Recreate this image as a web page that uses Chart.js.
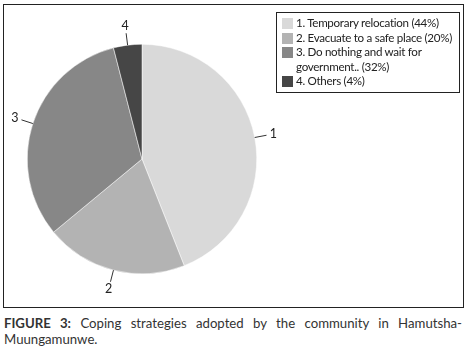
<!DOCTYPE html>
<html>
<head>
<meta charset="utf-8">
<script src="https://cdn.jsdelivr.net/npm/chart.js@4"></script>
<style>
  body { margin: 0; background: #fff; font-family: Lato, "Open Sans", sans-serif; }
  #frame { position: absolute; left: 3px; top: 4px; width: 459px; height: 302px; border: 1.5px solid #222; }
  #chart { position: absolute; left: 0; top: 0; }
  #legend { position: absolute; left: 272px; top: 7px; width: 182px; padding: 3px 0 3px 0;
    border: 1.5px solid #222; font-size: 11.6px; letter-spacing: -0.3px; color: #222; }
  .item { position: relative; padding-left: 19px; line-height: 14.6px; }
  .sw { position: absolute; left: 5px; top: 2px; width: 11px; height: 11px; }
  #caption { position: absolute; left: 4px; top: 315px; width: 458px; font-size: 13.2px;
    line-height: 16px; color: #333; text-align: justify; text-align-last: left; }
  #caption b { font-weight: bold; }
</style>
</head>
<body>
<div id="frame">
  <canvas id="chart" width="459" height="302"></canvas>
  <div id="legend"></div>
</div>
<div id="caption"><b>FIGURE 3:</b> Coping strategies adopted by the community in Hamutsha-Muungamunwe.</div>
<script>
const sliceLabels = ["1", "2", "3", "4"];
const legendNames = ["1. Temporary relocation (44%)", "2. Evacuate to a safe place (20%)",
  "3. Do nothing and wait for government.. (32%)", "4. Others (4%)"];
const values = [44, 20, 32, 4];
const colors = ["#d9d9d9", "#b3b3b3", "#878787", "#464646"];

// legend box
const legendEl = document.getElementById("legend");
legendNames.forEach((name, i) => {
  const row = document.createElement("div");
  row.className = "item";
  const sw = document.createElement("span");
  sw.className = "sw";
  sw.style.background = colors[i];
  row.appendChild(sw);
  row.appendChild(document.createTextNode(name));
  legendEl.appendChild(row);
});

// number labels with short leader lines
const leaderLabels = {
  id: "leaderLabels",
  afterDatasetsDraw(chart) {
    const ctx = chart.ctx;
    const meta = chart.getDatasetMeta(0);
    ctx.save();
    ctx.strokeStyle = "#333";
    ctx.lineWidth = 1;
    ctx.fillStyle = "#222";
    ctx.font = "12.5px Lato, sans-serif";
    meta.data.forEach((arc, i) => {
      const mid = (arc.startAngle + arc.endAngle) / 2;
      const cx = arc.x, cy = arc.y, r = arc.outerRadius;
      const x1 = cx + Math.cos(mid) * r, y1 = cy + Math.sin(mid) * r;
      const x2 = cx + Math.cos(mid) * (r + 12), y2 = cy + Math.sin(mid) * (r + 12);
      ctx.beginPath();
      ctx.moveTo(x1, y1);
      ctx.lineTo(x2, y2);
      ctx.stroke();
      const tx = cx + Math.cos(mid) * (r + 19), ty = cy + Math.sin(mid) * (r + 19);
      ctx.textAlign = "center";
      ctx.textBaseline = "middle";
      ctx.fillText(sliceLabels[i], tx, ty);
    });
    ctx.restore();
  }
};

new Chart(document.getElementById("chart"), {
  type: "pie",
  data: {
    labels: legendNames,
    datasets: [{
      data: values,
      backgroundColor: colors,
      borderColor: "#ffffff",
      borderWidth: 0.5
    }]
  },
  options: {
    responsive: false,
    animation: false,
    layout: { padding: { left: 23, right: 206, top: 39, bottom: 33 } },
    plugins: { legend: { display: false }, tooltip: { enabled: false } }
  },
  plugins: [leaderLabels]
});
</script>
</body>
</html>
